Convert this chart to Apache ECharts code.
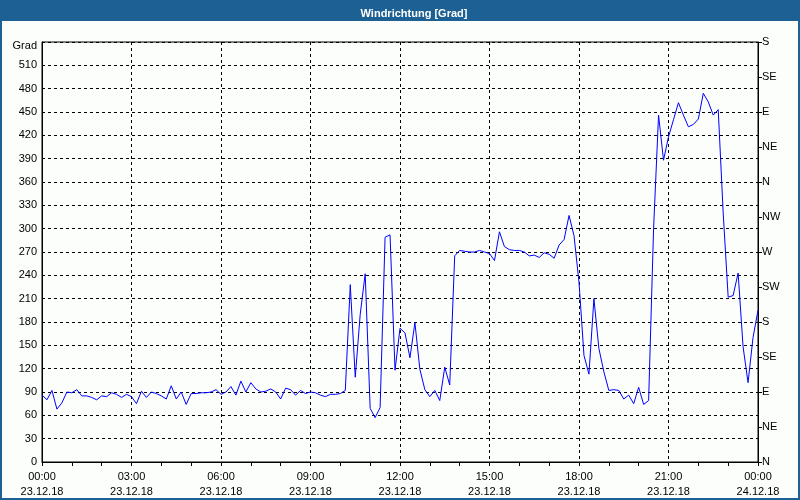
<!DOCTYPE html>
<html>
<head>
<meta charset="utf-8">
<script src="https://cdn.jsdelivr.net/npm/echarts@6/dist/echarts.min.js"></script>
<style>
html,body{margin:0;padding:0;background:#fbfefb;}
#chart{width:800px;height:500px;}
</style>
</head>
<body>
<div id="chart"></div>
<script>
// Wind direction every 10 minutes, 23.12.18 00:00 .. 24.12.18 00:00
const stepMinutes = 10;
const windDirection = [
  86, 80, 92, 68, 76, 90, 89, 93, 85, 85,
  83, 80, 85, 84, 89, 87, 83, 87, 84, 75,
  91, 83, 90, 88, 85, 81, 98, 81, 90, 74,
  88, 88, 89, 89, 90, 93, 87, 90, 97, 86,
  104, 90, 102, 94, 90, 91, 94, 90, 81, 95,
  93, 86, 92, 88, 90, 89, 86, 84, 87, 87,
  88, 92, 228, 109, 190, 242, 69, 57, 70, 289,
  292, 118, 172, 166, 134, 179, 119, 93, 84, 92,
  79, 122, 99, 265, 272, 271, 270, 270, 272, 270,
  268, 259, 296, 277, 273, 272, 272, 270, 265, 266,
  263, 269, 267, 262, 279, 286, 317, 291, 231, 137,
  113, 210, 146, 116, 92, 93, 92, 81, 86, 75,
  96, 74, 79, 300, 446, 388, 418, 440, 462, 446,
  431, 434, 441, 474, 463, 446, 453, 320, 212, 214,
  243, 148, 102, 160, 195
];
const leftTickValues = [0, 30, 60, 90, 120, 150, 180, 210, 240, 270, 300, 330, 360, 390, 420, 450, 480, 510];
const compassLabels = ['N', 'NE', 'E', 'SE', 'S', 'SW', 'W', 'NW', 'N', 'NE', 'E', 'SE', 'S'];
const dayLabels = ['23.12.18', '24.12.18'];
const titleText = 'Windrichtung [Grad]';
const unitLabel = 'Grad';

const seriesData = windDirection.map((v, i) => [i * stepMinutes, v]);

const FONT = 'Liberation Sans, Arial, sans-serif';
const chart = echarts.init(document.getElementById('chart'), null, {renderer: 'canvas'});
chart.setOption({
  animation: false,
  backgroundColor: '#fbfefb',
  title: {
    text: titleText,
    left: 409,
    textAlign: 'center',
    top: 3,
    textStyle: {color: '#ffffff', fontSize: 11, fontWeight: 'bold', fontFamily: FONT}
  },
  graphic: [
    {type: 'rect', z: -1, shape: {x: 0, y: 0, width: 800, height: 21}, style: {fill: '#1d6194'}},
    {type: 'rect', z: 100, shape: {x: 1, y: 1, width: 798, height: 498}, style: {fill: 'none', stroke: '#1d6194', lineWidth: 2}}
  ],
  grid: {left: 42, right: 42, top: 42, bottom: 38, show: true, borderColor: '#000', borderWidth: 1, backgroundColor: 'transparent'},
  xAxis: {
    type: 'value', min: 0, max: 1440, interval: 180,
    axisLine: {show: true, lineStyle: {color: '#000', width: 1}},
    axisTick: {show: true, length: 4, lineStyle: {color: '#000'}},
    minorTick: {show: true, splitNumber: 3, length: 4, lineStyle: {color: '#000'}},
    splitLine: {show: true, lineStyle: {color: '#000', type: [3, 3], width: 1}},
    axisLabel: {
      color: '#000', fontSize: 11, fontFamily: FONT, margin: 7, lineHeight: 15,
      formatter: function (v) {
        const h = Math.round(v / 60) % 24;
        const hh = (h < 10 ? '0' : '') + h + ':00';
        return hh + '\n' + (v >= 1440 ? dayLabels[1] : dayLabels[0]);
      }
    }
  },
  yAxis: [
    {
      type: 'value', min: 0, max: 540, interval: 30, position: 'left',
      axisLine: {show: true, lineStyle: {color: '#000'}},
      axisTick: {show: false},
      splitLine: {show: true, lineStyle: {color: '#000', type: [3, 3], width: 1}},
      axisLabel: {
        color: '#000', fontSize: 11, fontFamily: FONT, margin: 5,
        formatter: function (v) { return v === 540 ? '{g|' + unitLabel + '}' : (leftTickValues.indexOf(v) >= 0 ? String(v) : ''); },
        rich: {g: {color: '#000', fontSize: 11, fontFamily: FONT, padding: [8, 0, 0, 0]}}
      }
    },
    {
      type: 'value', min: 0, max: 540, interval: 45, position: 'right',
      axisLine: {show: true, lineStyle: {color: '#000'}},
      axisTick: {show: true, length: 4, lineStyle: {color: '#000'}},
      splitLine: {show: false},
      axisLabel: {
        color: '#000', fontSize: 11, fontFamily: FONT, margin: 4,
        formatter: function (v) { return compassLabels[Math.round(v / 45)]; }
      }
    }
  ],
  series: [{
    type: 'line',
    data: seriesData,
    yAxisIndex: 0,
    showSymbol: false,
    symbol: 'none',
    lineStyle: {color: '#0000ff', width: 1},
    z: 5
  }]
});
</script>
</body>
</html>
